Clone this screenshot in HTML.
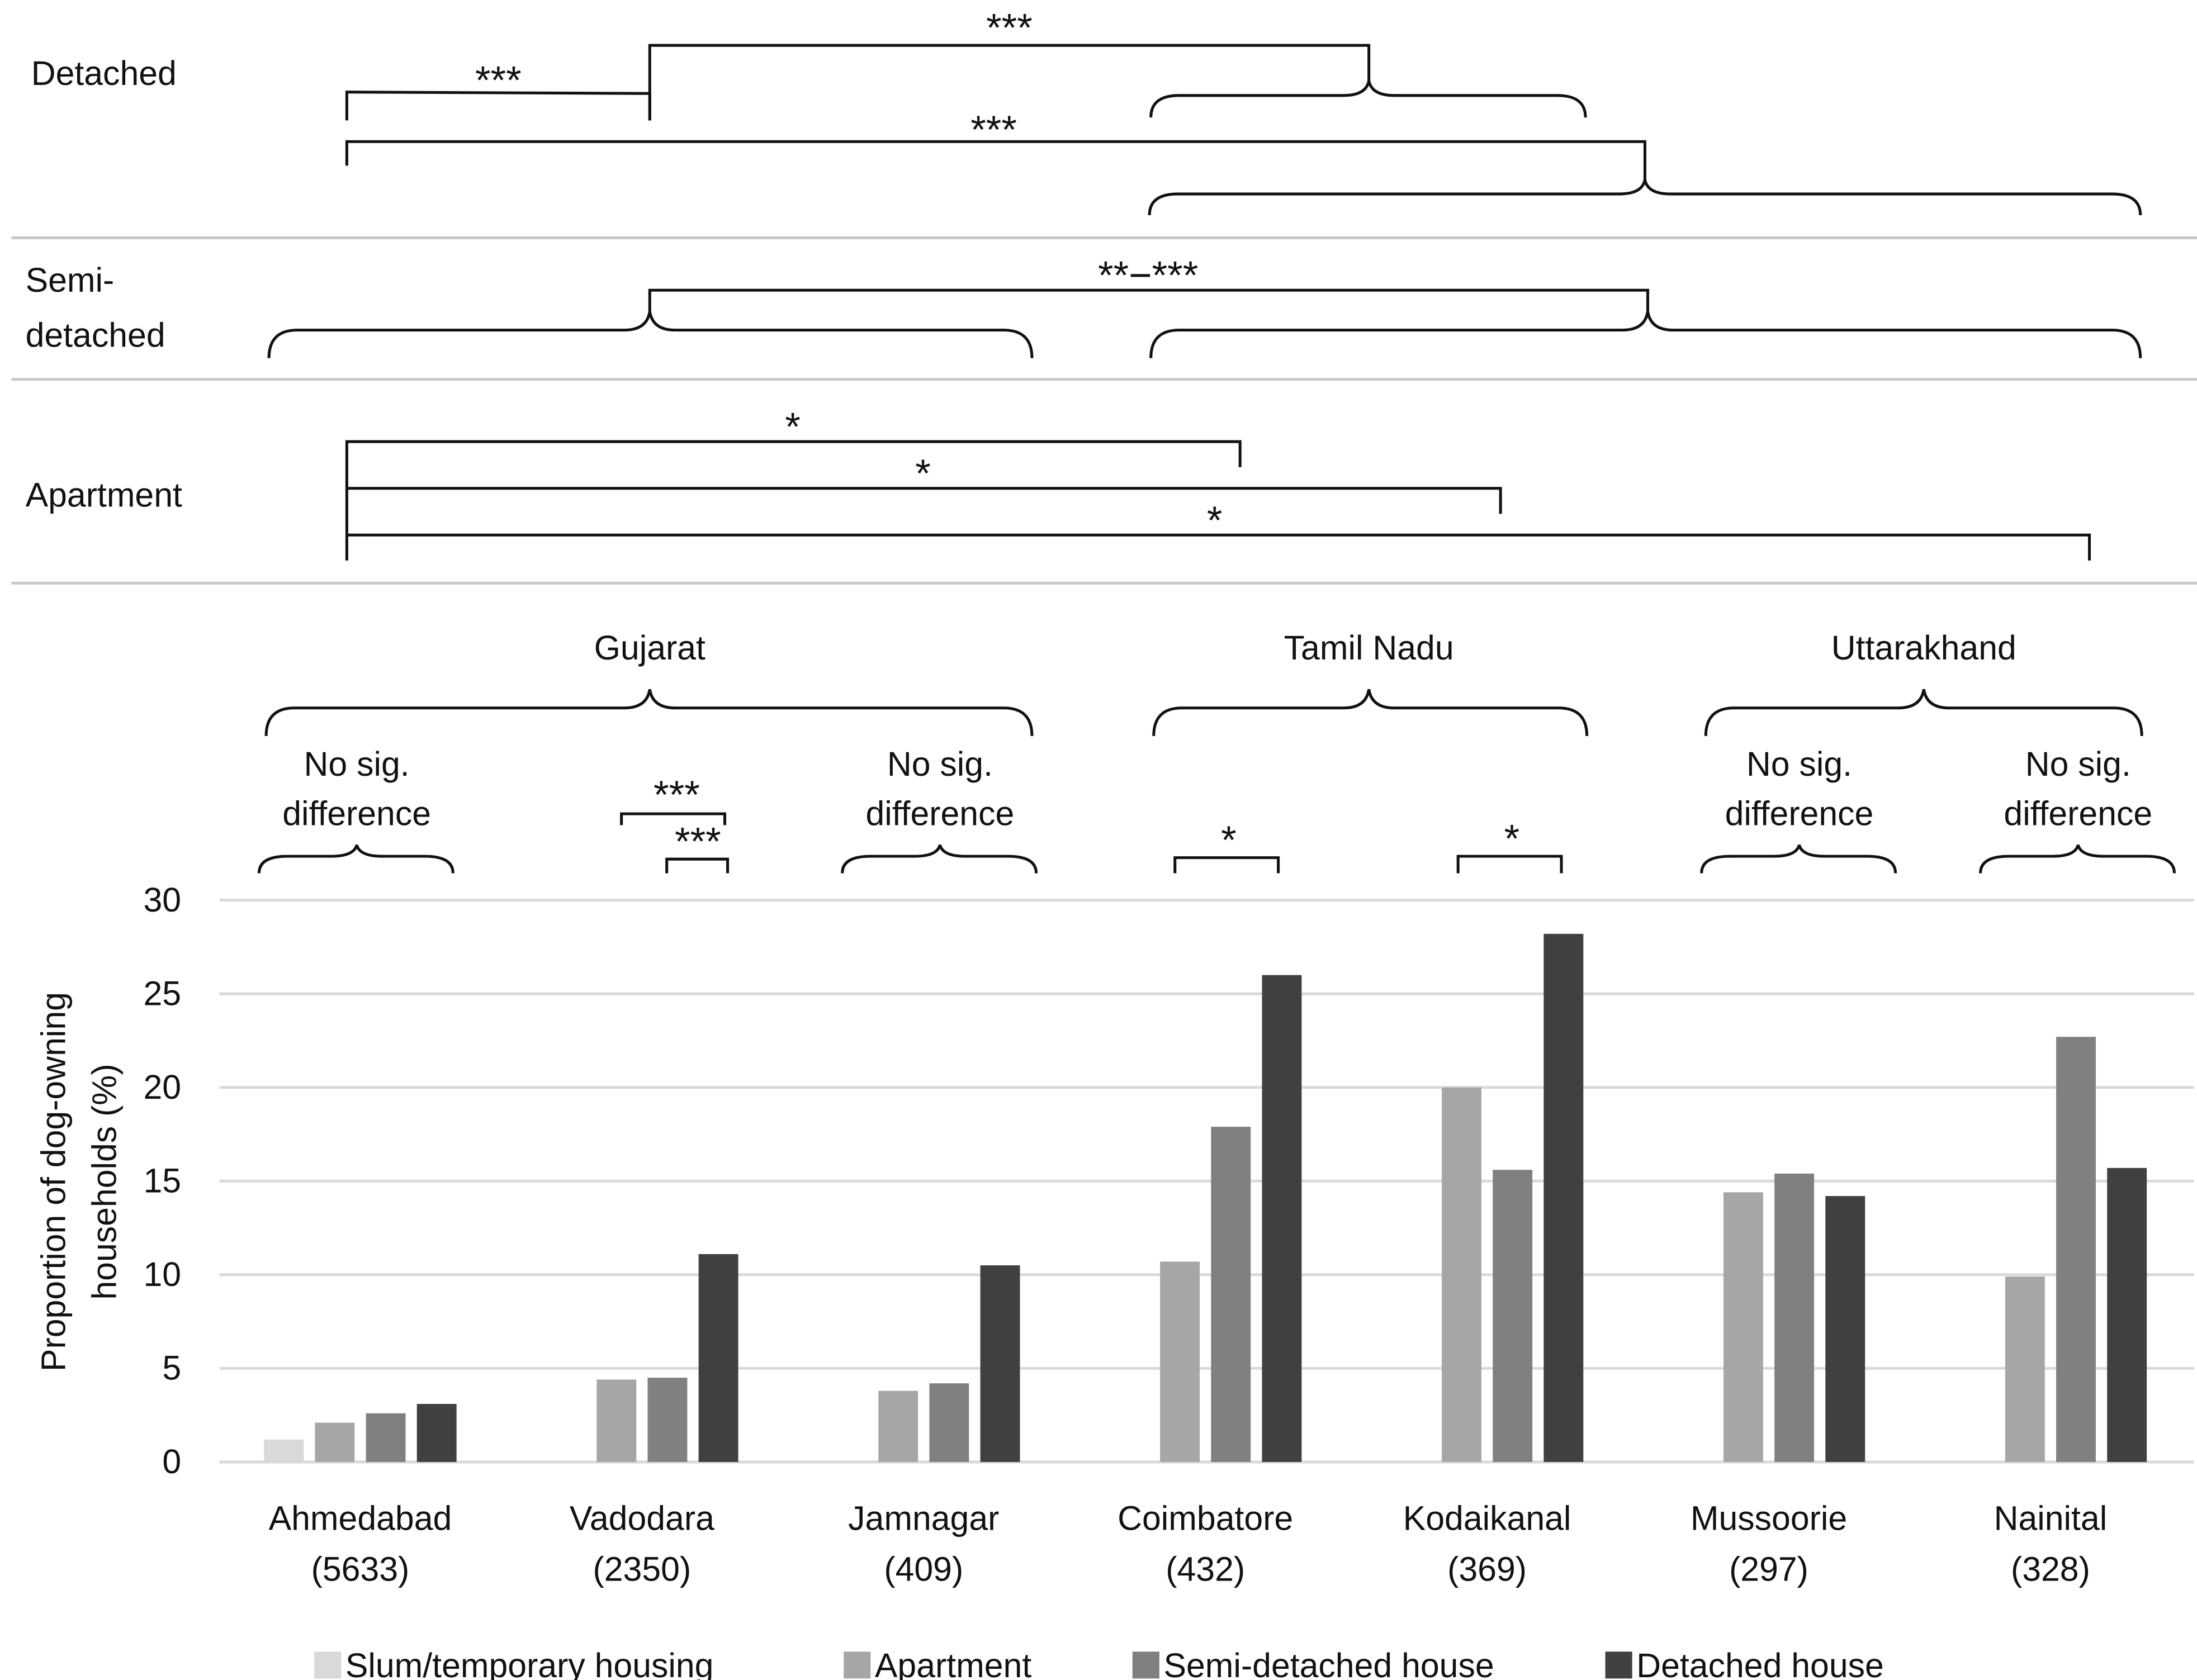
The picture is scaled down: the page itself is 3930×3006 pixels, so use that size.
<!DOCTYPE html>
<html><head><meta charset="utf-8"><style>
html,body{margin:0;padding:0;background:#fff}
svg{display:block}
text{font-family:"Liberation Sans",sans-serif;fill:#111}
.st{font-size:28px}
</style></head><body>
<svg id="chart" width="3930" height="3006" viewBox="0 0 1552 1187" xmlns="http://www.w3.org/2000/svg">
<g id="annot" fill="none" stroke="#111" stroke-width="2"></g>
<g id="annotText" font-size="24"></g>
<g id="grid"></g>
<g id="bars"></g>
<g id="axes" font-size="24"></g>
<g id="legend" font-size="24"></g>
</svg>
<script>
const categories = ["Ahmedabad","Vadodara","Jamnagar","Coimbatore","Kodaikanal","Mussoorie","Nainital"];
const sampleSizes = ["(5633)","(2350)","(409)","(432)","(369)","(297)","(328)"];
const slumValues = [1.2,null,null,null,null,null,null];
const apartmentValues = [2.1,4.4,3.8,10.7,20.0,14.4,9.9];
const semiValues = [2.6,4.5,4.2,17.9,15.6,15.4,22.7];
const detachedValues = [3.1,11.1,10.5,26.0,28.2,14.2,15.7];
const yTicks = [0,5,10,15,20,25,30];
const seriesNames = ["Slum/temporary housing","Apartment","Semi-detached house","Detached house"];

const NS="http://www.w3.org/2000/svg";
function mk(tag,attrs,parent){const e=document.createElementNS(NS,tag);for(const k in attrs)e.setAttribute(k,attrs[k]);parent.appendChild(e);return e;}
const colors=["#d9d9d9","#a6a6a6","#808080","#404040"];
const plotX0=155, catW=199, y0=1033, pxPerUnit=(1033-636)/30;
const yScale=v=>y0-v*pxPerUnit;
const xCenter=i=>plotX0+catW*(i+0.5);

const grid=document.getElementById('grid');
const axes=document.getElementById('axes');
yTicks.forEach(t=>{
  const l=mk('line',{x1:plotX0,x2:1550,y1:yScale(t),y2:yScale(t),stroke:'#d9d9d9','stroke-width':2},grid);
  
  
  const tx=mk('text',{x:128,y:yScale(t)+8,'text-anchor':'end'},axes);
  tx.textContent=t;
  
  
});
const bars=document.getElementById('bars');
const series=[slumValues,apartmentValues,semiValues,detachedValues];
categories.forEach((c,i)=>{
  series.forEach((s,j)=>{
    const v=s[i]; if(v==null) return;
    const x=xCenter(i)+(j-1.5)*36-14;
    const r=mk('rect',{x:x,y:yScale(v),width:28,height:y0-yScale(v),fill:colors[j]},bars);
    
    
  });
  const t1=mk('text',{x:xCenter(i),y:1081,'text-anchor':'middle'},axes);
  t1.textContent=c;
  
  
  const t2=mk('text',{x:xCenter(i),y:1117,'text-anchor':'middle'},axes);
  t2.textContent=sampleSizes[i];
  
  
});
const yt=mk('text',{transform:'translate(46,835) rotate(-90)','text-anchor':'middle'},axes);
yt.textContent='Proportion of dog-owning';


const yt2=mk('text',{transform:'translate(82,835) rotate(-90)','text-anchor':'middle'},axes);
yt2.textContent='households (%)';



const legend=document.getElementById('legend');
const legX=[222,596,800,1134];
seriesNames.forEach((n,j)=>{
  const r=mk('rect',{x:legX[j],y:1167,width:19,height:19,fill:colors[j]},legend);
  
  
  const t=mk('text',{x:legX[j]+22,y:1185},legend);
  t.textContent=n;
  
  
});

const an=document.getElementById('annot'), at=document.getElementById('annotText');
function path(d,name){const p=mk('path',{d:d},an);}
function brace(x1,x2,xc,yTop,yEnd,name){
  const ym=yTop+(yEnd-yTop)*0.4;
  const d=`M${x1},${yEnd} Q${x1},${ym} ${x1+20},${ym} L${xc-18},${ym} Q${xc-2},${ym} ${xc},${yTop} Q${xc+2},${ym} ${xc+18},${ym} L${x2-20},${ym} Q${x2},${ym} ${x2},${yEnd}`;
  path(d,name);
}
function txt(x,y,s,name,anchor,cls){const t=mk('text',{x:x,y:y,'text-anchor':anchor||'middle'},at);if(cls)t.setAttribute('class',cls);t.textContent=s;}

[168,268,412].forEach((y,i)=>{const l=mk('line',{x1:8,x2:1552,y1:y,y2:y,stroke:'#c8c8c8','stroke-width':2},an);});
txt(22,60,'Detached','detached-row-label','start');
txt(18,206,'Semi-','semi-row-label','start');
txt(18,245,'detached','semi-row-label-2','start');
txt(18,358,'Apartment','apartment-row-label','start');

path('M245,85 L245,65 L459,66 L459,85','bracket-det-1');
txt(352,66,'***','stars-det-1','middle','st');
path('M459,85 L459,32 L967,32 L967,57','bracket-det-2');
txt(713,29,'***','stars-det-2','middle','st');
brace(813,1120,967,57,83,'brace-tamil-det');
path('M245,117 L245,100 L1162,100 L1162,127','bracket-det-3');
txt(702,101,'***','stars-det-3','middle','st');
brace(812,1512,1162,127,152,'brace-tn-uk-det');
path('M459,220 L459,205 L1164,205 L1164,220','bracket-semi');
txt(811,204,'**−***','stars-semi','middle','st');
brace(190,729,459,220,253,'brace-guj-semi');
brace(813,1512,1164,220,253,'brace-tn-uk-semi');
path('M245,396 L245,312 L876,312 L876,330','bracket-apt-1');
txt(560,311,'*','stars-apt-1','middle','st');
path('M245,345 L1060,345 L1060,363','bracket-apt-2');
txt(652,344,'*','stars-apt-2','middle','st');
path('M245,378 L1476,378 L1476,396','bracket-apt-3');
txt(858,377,'*','stars-apt-3','middle','st');
txt(459,466,'Gujarat','region-gujarat');
txt(967,466,'Tamil Nadu','region-tamil-nadu');
txt(1359,466,'Uttarakhand','region-uttarakhand');
brace(188,729,459,487,520,'brace-gujarat');
brace(815,1121,967,487,520,'brace-tamil-nadu');
brace(1205,1513,1359,487,520,'brace-uttarakhand');
[[252,'ahmedabad'],[664,'jamnagar'],[1271,'mussoorie'],[1468,'nainital']].forEach(([x,n])=>{
  txt(x,548,'No sig.','nosig-'+n);
  txt(x,583,'difference','nosig2-'+n);
  brace(x-69,x+68,x,597,617,'brace-'+n);
});
path('M439,583 L439,575 L512,575 L512,583','bracket-vad-1');
txt(478,571,'***','stars-vad-1','middle','st');
path('M471,617 L471,607 L514,607 L514,617','bracket-vad-2');
txt(493,604,'***','stars-vad-2','middle','st');
path('M830,617 L830,606 L903,606 L903,617','bracket-coim');
txt(868,603,'*','stars-coim','middle','st');
path('M1030,617 L1030,605 L1103,605 L1103,617','bracket-koda');
txt(1068,602,'*','stars-koda','middle','st');
</script>
</body></html>
